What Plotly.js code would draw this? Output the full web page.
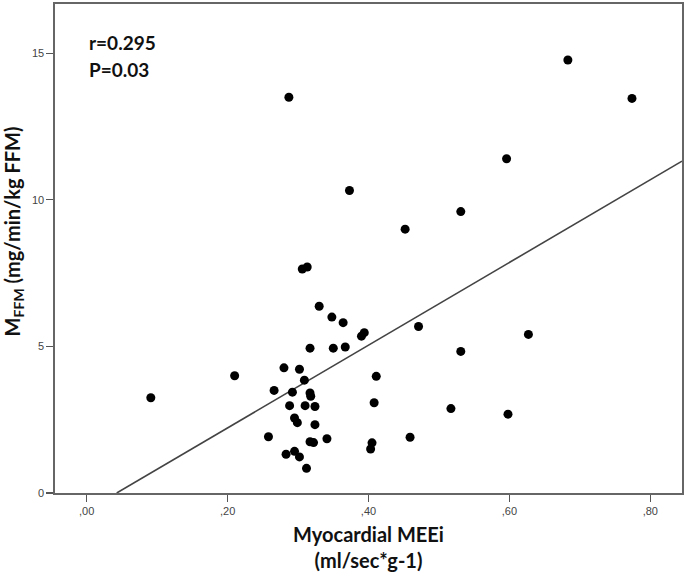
<!DOCTYPE html>
<html>
<head>
<meta charset="utf-8">
<script src="https://cdn.plot.ly/plotly-3.0.1.min.js"></script>
<style>html,body{margin:0;padding:0;background:#fff;}#chart{width:685px;height:577px;}</style>
</head>
<body>
<div id="chart"></div>
<script>
// Myocardial MEEi (ml/sec*g-1)
const meei = [0.091,0.210,0.258,0.266,0.280,0.283,0.287,0.288,0.292,0.295,
              0.295,0.299,0.302,0.302,0.306,0.313,0.309,0.310,0.312,0.317,
              0.317,0.318,0.317,0.322,0.324,0.324,0.330,0.341,0.348,0.350,
              0.364,0.367,0.373,0.390,0.394,0.403,0.405,0.408,0.411,0.452,
              0.459,0.471,0.517,0.531,0.531,0.596,0.598,0.627,0.683,0.774];
// M_FFM (mg/min/kg FFM)
const mffm = [3.25,4.00,1.92,3.50,4.27,1.32,13.50,2.98,3.44,2.56,
              1.42,2.40,4.22,1.23,7.64,7.71,3.85,2.98,0.84,4.94,
              3.41,3.30,1.75,1.72,2.95,2.33,6.37,1.85,6.00,4.94,
              5.81,4.98,10.32,5.35,5.47,1.50,1.71,3.08,3.98,9.00,
              1.90,5.68,2.88,4.83,9.60,11.40,2.69,5.41,14.77,13.46];
// Fit line endpoints
const fitX = [0.0426, 0.845];
const fitY = [0, 11.32];
const xTickVals = [0, 0.2, 0.4, 0.6, 0.8];
const xTickText = [",00", ",20", ",40", ",60", ",80"];
const yTickVals = [0, 5, 10, 15];
const yTickText = ["0", "5", "10", "15"];
const statLines = ["r=0.295", "P=0.03"];

const traces = [
  {x: fitX, y: fitY, type: 'scatter', mode: 'lines',
   line: {color: '#444', width: 1.6}, hoverinfo: 'skip', showlegend: false},
  {x: meei, y: mffm, type: 'scatter', mode: 'markers',
   marker: {color: '#000', size: 9}, showlegend: false}
];

const titleFont = {family: 'Lato, "Open Sans", sans-serif', size: 20, color: '#111'};
const statFont = {family: 'Lato, "Open Sans", sans-serif', size: 19, color: '#111'};
const tickFont = {family: '"Liberation Sans", Arial, sans-serif', size: 11, color: '#444'};

const layout = {
  width: 685, height: 577,
  margin: {l: 55, r: 3, t: 3.5, b: 84.3},
  paper_bgcolor: '#fff', plot_bgcolor: '#fff',
  xaxis: {
    range: [-0.045, 0.845], tickvals: xTickVals, ticktext: xTickText,
    ticks: 'outside', ticklen: 7, tickcolor: '#555', tickwidth: 1.3,
    showline: true, mirror: true, linecolor: '#666', linewidth: 1.6,
    showgrid: false, zeroline: false, tickfont: tickFont,
    title: {text: '<b>Myocardial MEEi</b><br><b>(ml/sec*g-1)</b>', font: titleFont, standoff: 12}
  },
  yaxis: {
    range: [0, 16.68], tickvals: yTickVals, ticktext: yTickText,
    ticks: 'outside', ticklen: 7, tickcolor: '#555', tickwidth: 1.3,
    showline: true, mirror: true, linecolor: '#666', linewidth: 1.6,
    showgrid: false, zeroline: false, tickfont: tickFont
  },
  annotations: [
    {text: '<b>M<sub>FFM</sub> (mg/min/kg FFM)</b>', xref: 'paper', yref: 'paper',
     x: -0.067, y: 0.535, xanchor: 'center', yanchor: 'middle', textangle: -90,
     showarrow: false, font: titleFont},
    {text: '<b>' + statLines[0] + '</b>', xref: 'paper', yref: 'paper', x: 0.051, y: 0.921,
     xanchor: 'left', yanchor: 'middle', showarrow: false, font: statFont},
    {text: '<b>' + statLines[1] + '</b>', xref: 'paper', yref: 'paper', x: 0.051, y: 0.866,
     xanchor: 'left', yanchor: 'middle', showarrow: false, font: statFont}
  ]
};

Plotly.newPlot('chart', traces, layout, {displayModeBar: false, staticPlot: true});
</script>
</body>
</html>
